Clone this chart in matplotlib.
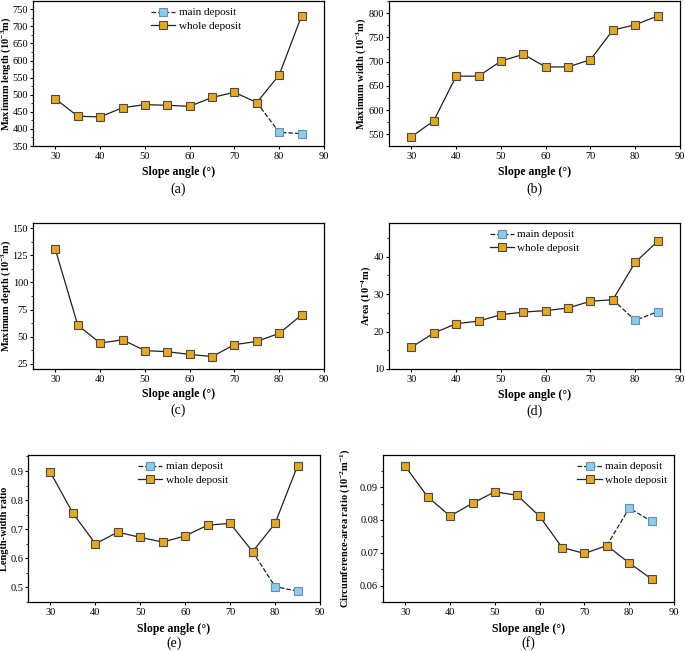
import numpy as np
import matplotlib
matplotlib.use("Agg")
import matplotlib.pyplot as plt
from matplotlib.ticker import MultipleLocator, AutoMinorLocator

plt.rcParams['font.family'] = ['Liberation Serif', 'DejaVu Serif']
plt.rcParams['mathtext.fontset'] = 'custom'
plt.rcParams['mathtext.rm'] = 'Liberation Serif'
plt.rcParams['mathtext.bf'] = 'Liberation Serif:bold'
plt.rcParams['mathtext.it'] = 'Liberation Serif:italic'

angle = [30, 35, 40, 45, 50, 55, 60, 65, 70, 75, 80, 85]
main_angle = [75, 80, 85]

length_whole = [488, 437, 435, 462, 471, 469, 466, 492, 507, 477, 558, 731]
length_main = [477, 390, 386]

width_whole = [545, 578, 670, 670, 701, 715, 689, 689, 704, 765, 776, 794]

depth_whole = [130.5, 60.5, 44, 47, 37, 36, 33.5, 31.5, 42.5, 45.5, 53, 70]

area_whole = [15.8, 19.6, 22.1, 22.8, 24.5, 25.2, 25.6, 26.3, 28.1, 28.5, 38.5, 44.1]
area_main = [28.5, 23.0, 25.3]

lw_whole = [0.895, 0.755, 0.650, 0.690, 0.672, 0.656, 0.677, 0.714, 0.720, 0.623, 0.720, 0.918]
lw_main = [0.623, 0.503, 0.487]

ca_whole = [0.0963, 0.0870, 0.0812, 0.0851, 0.0886, 0.0875, 0.0811, 0.0716, 0.0698, 0.0722, 0.0669, 0.0620]
ca_main = [0.0722, 0.0836, 0.0796]

orange = '#E8A81E'
blue = '#86CDF3'
edge = '#4a4a4a'

W, H = 685, 651
fig = plt.figure(figsize=(W / 100, H / 100), dpi=100)


def make_ax(l, r, t, b):
    return fig.add_axes([l / W, 1 - b / H, (r - l) / W, (b - t) / H])


def style(ax, ylim, ystep, ylabel, letter, xlab_y, let_y, ylab_x):
    ax.set_xlim(25, 90)
    ax.set_ylim(*ylim)
    ax.xaxis.set_major_locator(MultipleLocator(10))
    ax.yaxis.set_major_locator(MultipleLocator(ystep))
    ax.yaxis.set_minor_locator(AutoMinorLocator(2))
    ax.tick_params(which='major', direction='out', length=2.5, width=0.8, labelsize=7.5, pad=1.5)
    ax.tick_params(axis='y', which='major', pad=1)
    ax.tick_params(which='minor', direction='out', length=1.5, width=0.6)
    for s in ax.spines.values():
        s.set_linewidth(0.9)
    ax.set_ylabel(ylabel, fontsize=7.5, fontweight='bold')
    # y label at a fixed figure x position, centred on the axes
    pos = ax.get_position()
    ax.yaxis.set_label_coords(ylab_x / W, pos.y0 + pos.height / 2, transform=fig.transFigure)
    ax.yaxis.label.set_va('center')
    cx = pos.x0 + pos.width / 2
    fig.text(cx, 1 - xlab_y / H, 'Slope angle (°)', ha='center', va='center',
             fontsize=8.5, fontweight='bold')
    fig.text(cx, 1 - let_y / H, letter, ha='center', va='center', fontsize=10)


def plot_whole(ax, y):
    ax.plot(angle, y, '-', color='#222222', lw=0.9, marker='s', ms=5.5,
            mfc=orange, mec=edge, mew=0.8, label='whole deposit', zorder=3)


def plot_main(ax, y, label='main deposit'):
    ax.plot(main_angle, y, '--', color='#222222', lw=0.9, marker='s', ms=5.5,
            mfc=blue, mec='#6f8fa3', mew=0.8, label=label, zorder=2)


def legend(ax, loc, anchor):
    h, l = ax.get_legend_handles_labels()
    ax.legend(h, l, loc=loc, bbox_to_anchor=anchor, frameon=False, fontsize=8,
              handlelength=2.2, handletextpad=0.3, labelspacing=0.3,
              borderaxespad=0.2)


# (a)
ax = make_ax(33, 324, 1, 146)
plot_main(ax, length_main)
plot_whole(ax, length_whole)
style(ax, (350, 774), 50, r'Maximum length (10$^{\mathbf{-3}}$m)', '(a)', 172, 189, 6)
legend(ax, 'upper center', (0.56, 1.0))

# (b)
ax = make_ax(389, 680, 1, 146)
plot_whole(ax, width_whole)
style(ax, (526, 825), 50, r'Maximum width (10$^{\mathbf{-3}}$m)', '(b)', 172, 189, 361.5)

# (c)
ax = make_ax(33, 324, 223, 369)
plot_whole(ax, depth_whole)
style(ax, (20, 155), 25, r'Maximum depth (10$^{\mathbf{-3}}$m)', '(c)', 394, 410, 6)

# (d)
ax = make_ax(389, 680, 223, 369)
plot_main(ax, area_main)
plot_whole(ax, area_whole)
style(ax, (10, 49), 10, r'Area (10$^{\mathbf{-4}}$m)', '(d)', 395, 411, 366)
legend(ax, 'upper center', (0.5, 1.0))

# (e)
ax = make_ax(28, 320, 455, 602)
plot_main(ax, lw_main, label='mian deposit')
plot_whole(ax, lw_whole)
style(ax, (0.45, 0.955), 0.1, 'Length-width ratio', '(e)', 629, 643, 5)
legend(ax, 'upper center', (0.53, 1.0))

# (f)
ax = make_ax(383, 674, 455, 602)
plot_main(ax, ca_main)
plot_whole(ax, ca_whole)
style(ax, (0.055, 0.0998), 0.01, r'Circumference-area ratio (10$^{\mathbf{-2}}$m$^{\mathbf{-1}}$)', '(f)', 629, 643, 345.5)
legend(ax, 'upper right', (1.0, 1.0))

fig.savefig('out.png', dpi=100)
